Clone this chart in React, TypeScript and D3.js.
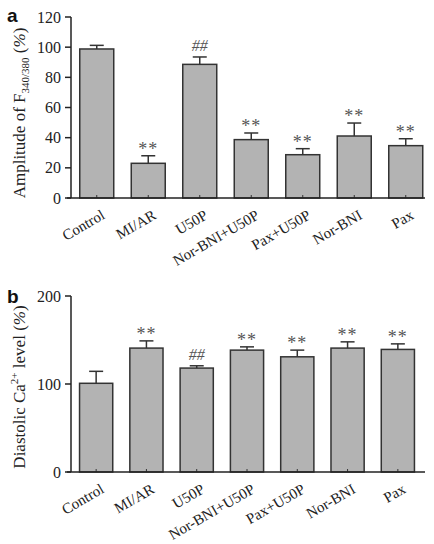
import React from "react";
import * as d3 from "d3";

const categories = ["Control", "MI/AR", "U50P", "Nor-BNI+U50P", "Pax+U50P", "Nor-BNI", "Pax"];
const ampValues = [98.8, 23, 88.6, 38.7, 28.7, 41.1, 34.7];
const ampErrors = [2.4, 5, 4.9, 4.4, 4.0, 8.6, 4.6];
const ampMarks = ["", "**", "##", "**", "**", "**", "**"];
const ampTicks = [0, 20, 40, 60, 80, 100, 120];

const diaValues = [100.8, 140.8, 118.1, 138.5, 130.9, 140.8, 139.3];
const diaErrors = [13.6, 8.2, 2.6, 3.7, 7.6, 7.1, 6.3];
const diaMarks = ["", "**", "##", "**", "**", "**", "**"];
const diaTicks = [0, 100, 200];

const SERIF = "'Liberation Serif', 'Times New Roman', serif";

function Panel({ top, bottom, xRange, yMax, ticks, values, errors, marks, label, labelY, title, padInner }: any) {
  const x = d3.scaleBand().domain(categories).range(xRange).paddingInner(padInner).paddingOuter(padInner / 2);
  const y = d3.scaleLinear().domain([0, yMax]).range([bottom, top]);
  const x0 = xRange[0];
  return (
    <g>
      {categories.map((c, i) => {
        const bx = x(c)!;
        const bw = x.bandwidth();
        const cx = bx + bw / 2;
        const capY = y(values[i] + errors[i]);
        return (
          <g key={c}>
            <rect x={bx} y={y(values[i])} width={bw} height={bottom - y(values[i])} fill="#b3b3b3" stroke="#333" strokeWidth={1.5} />
            <line x1={cx} x2={cx} y1={y(values[i])} y2={capY} stroke="#333" strokeWidth={1.5} />
            <line x1={cx - 7} x2={cx + 7} y1={capY} y2={capY} stroke="#333" strokeWidth={1.5} />
            <line x1={cx} x2={cx} y1={bottom} y2={bottom - 3} stroke="#333" strokeWidth={1} />
            {marks[i] && (
              <text
                x={cx}
                y={marks[i] === "##" ? capY - 6 : capY - 1}
                textAnchor="middle"
                fontFamily={SERIF}
                fontSize={marks[i] === "##" ? 16 : 18}
                fontStyle={marks[i] === "##" ? "italic" : "normal"}
                fill="#555"
                letterSpacing={marks[i] === "**" ? 1 : 0}
              >
                {marks[i]}
              </text>
            )}
            <text
              transform={`translate(${cx + 9},${bottom + 20}) rotate(-30)`}
              textAnchor="end"
              fontFamily={SERIF}
              fontSize={15}
              fill="#222"
            >
              {c}
            </text>
          </g>
        );
      })}
      <line x1={x0} x2={x0} y1={top} y2={bottom} stroke="#222" strokeWidth={1.5} />
      <line x1={x0 - 4} x2={425} y1={bottom} y2={bottom} stroke="#222" strokeWidth={1.5} />
      {ticks.map((t: number) => (
        <g key={t}>
          <line x1={x0 - 6} x2={x0} y1={y(t)} y2={y(t)} stroke="#222" strokeWidth={1.5} />
          <text x={x0 - 10} y={y(t)} dy="0.35em" textAnchor="end" fontFamily={SERIF} fontSize={16} fill="#222">
            {t}
          </text>
        </g>
      ))}
      <text x={7} y={labelY} fontFamily="'Liberation Sans', Arial, sans-serif" fontWeight="bold" fontSize={19} fill="#111">
        {label}
      </text>
      {title}
    </g>
  );
}

export default function App() {
  return (
    <svg width={434} height={544} style={{ position: "absolute", left: 0, top: 0 }}>
      <rect width={434} height={544} fill="#fff" />
      <Panel
        top={17}
        bottom={198}
        xRange={[71, 431.5]}
        yMax={120}
        ticks={ampTicks}
        values={ampValues}
        errors={ampErrors}
        marks={ampMarks}
        label="a"
        labelY={22}
        padInner={0.34}
        title={
          <text transform="translate(25,113) rotate(-90)" textAnchor="middle" fontFamily={SERIF} fontSize={17} fill="#222">
            Amplitude of  F<tspan fontSize={11} dy="4">340/380</tspan>
            <tspan dy="-4"> (</tspan><tspan fontStyle="italic">%</tspan>)
          </text>
        }
      />
      <Panel
        top={296}
        bottom={472}
        xRange={[71, 423]}
        yMax={200}
        ticks={diaTicks}
        values={diaValues}
        errors={diaErrors}
        marks={diaMarks}
        label="b"
        labelY={303}
        padInner={0.34}
        title={
          <text transform="translate(25,387) rotate(-90)" textAnchor="middle" fontFamily={SERIF} fontSize={17} fill="#222">
            Diastolic Ca<tspan fontSize={11} dy="-7">2+</tspan>
            <tspan dy="7"> level (</tspan><tspan fontStyle="italic">%</tspan>)
          </text>
        }
      />
    </svg>
  );
}
